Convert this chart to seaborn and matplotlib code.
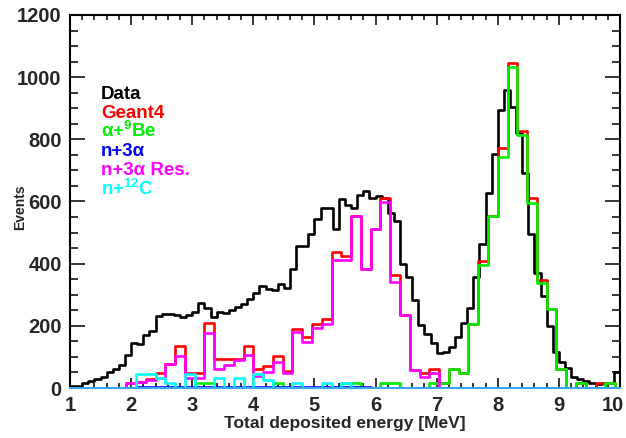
import numpy as np
import pandas as pd
import matplotlib
matplotlib.use('Agg')
import matplotlib.pyplot as plt
import seaborn as sns
from matplotlib.ticker import MultipleLocator, FuncFormatter

# measured spectrum, 0.1 MeV bins from 1.0 MeV
data_start = 1.0
data_width = 0.1
data_counts = [5, 8, 15, 22, 29, 36, 50, 60, 74, 106,
               144, 140, 170, 184, 232, 237, 238, 235, 229, 235,
               245, 272, 258, 229, 245, 242, 251, 261, 269, 287,
               305, 328, 317, 315, 334, 322, 383, 458, 458, 497,
               545, 578, 578, 510, 607, 588, 578, 620, 633, 610,
               618, 610, 562, 538, 400, 358, 283, 203, 173, 145,
               114, 116, 131, 165, 208, 256, 358, 463, 628, 754,
               894, 958, 904, 819, 692, 497, 369, 296, 199, 117,
               85, 63, 36, 28, 24, 17, 13, 17, 15, 53]

# Geant4 simulation, 0.16 MeV bins from 1.76 MeV
sim_start = 1.76
sim_width = 0.16
geant4 = [0, 15, 20, 30, 47, 77, 135, 47, 47, 208, 92,
          92, 92, 135, 60, 70, 104, 55, 190, 163, 207,
          221, 438, 424, 553, 382, 510, 610, 363, 235, 58,
          49, 62, 17, 62, 47, 205, 408, 553, 771, 1044,
          826, 610, 349, 253, 60, 0, 17, 0, 17, 17, 0]
alpha_be9 = [0, 0, 0, 0, 0, 0, 0, 0, 15, 15, 0,
             0, 0, 0, 0, 0, 17, 0, 0, 0, 0,
             0, 0, 17, 17, 0, 0, 17, 17, 0, 0,
             0, 17, 17, 62, 47, 205, 395, 553, 744, 1033,
             813, 596, 337, 253, 60, 0, 17, 0, 0, 17, 0]
n_3alpha = [0, 0, 4, 4, 4, 4, 4, 4, 4, 4, 4,
            4, 4, 4, 4, 4, 4, 4, 4, 4, 4,
            4, 4, 4, 4, 4, 0, 0, 0, 0, 0,
            0, 0, 0, 0, 0, 0, 0, 0, 0, 0,
            0, 0, 0, 0, 0, 0, 0, 0, 0, 0, 0]
n_3alpha_res = [0, 15, 20, 25, 31, 77, 104, 33, 33, 177, 60,
                75, 90, 105, 40, 52, 84, 48, 179, 148, 192,
                206, 411, 411, 553, 382, 510, 599, 342, 235, 58,
                36, 49, 0, 0, 0, 0, 0, 0, 0, 0,
                0, 0, 0, 0, 0, 0, 0, 0, 0, 0, 0]
n_c12 = [0, 0, 45, 45, 31, 17, 0, 45, 0, 0, 31,
         0, 31, 0, 45, 26, 0, 0, 17, 0, 0,
         15, 0, 17, 0, 0, 0, 0, 0, 0, 0,
         0, 0, 0, 0, 0, 0, 0, 0, 0, 0,
         0, 0, 0, 0, 0, 0, 0, 0, 0, 0, 0]

labels = ['Data', 'Geant4', 'α+$^{9}$Be', 'n+3α', 'n+3α Res.', 'n+$^{12}$C']
colors = ['black', '#ff0000', '#00ee00', '#0000ff', '#ff00ff', '#00ffff']

sns.set_style('ticks')
plt.rcParams['font.family'] = ['Liberation Sans', 'DejaVu Sans']
plt.rcParams['font.weight'] = 'bold'
plt.rcParams['mathtext.fontset'] = 'custom'
plt.rcParams['mathtext.rm'] = 'Liberation Sans:bold'
plt.rcParams['mathtext.default'] = 'rm'


def hist_frame(start, width, counts):
    edges = [start + width * i for i in range(len(counts) + 1)]
    df = pd.DataFrame({'energy': [(edges[i] + edges[i + 1]) / 2 for i in range(len(counts))],
                       'counts': counts})
    return df, edges


fig = plt.figure(figsize=(6.26, 4.38), dpi=100)
ax = fig.add_axes([70 / 626, 1 - 388 / 438, 550 / 626, 373 / 438])

# data histogram
df, edges = hist_frame(data_start, data_width, data_counts)
sns.histplot(data=df, x='energy', weights='counts', bins=edges,
             element='step', fill=False, color=colors[0], linewidth=1.9, ax=ax)

# simulated components
for vals, col in zip([geant4, alpha_be9, n_3alpha, n_3alpha_res, n_c12], colors[1:]):
    df, edges = hist_frame(sim_start, sim_width, vals)
    sns.histplot(data=df, x='energy', weights='counts', bins=edges, element='step',
                 fill=False, color=col, linewidth=1.9, ax=ax)

xmax = 10
ax.set_xlim(1, xmax)
ax.set_ylim(0, 1200)
ax.xaxis.set_major_locator(MultipleLocator(1))
ax.xaxis.set_minor_locator(MultipleLocator(0.2))
ax.yaxis.set_major_locator(MultipleLocator(200))
ax.yaxis.set_minor_locator(MultipleLocator(50))
# last label is drawn by hand so it stays inside the figure
ax.xaxis.set_major_formatter(FuncFormatter(lambda v, p: '' if v >= xmax else '%d' % v))
ax.tick_params(which='both', direction='in', top=True, right=True, width=1.1,
               color='black', labelsize=14.5)
ax.tick_params(axis='x', which='major', length=7.5, pad=6)
ax.tick_params(axis='x', which='minor', length=3.8)
ax.tick_params(axis='y', which='major', length=11, pad=6)
ax.tick_params(axis='y', which='minor', length=5.5)
for lab in ax.get_xticklabels() + ax.get_yticklabels():
    lab.set_fontweight('bold')
ax.annotate('%d' % xmax, xy=(xmax, 0), xycoords=('data', 'axes fraction'),
            xytext=(-5, -6), textcoords='offset points', ha='center', va='top',
            fontsize=14.5, fontweight='bold')

for s in ax.spines.values():
    s.set_linewidth(1.5)
    s.set_color('black')
ax.spines['bottom'].set_color('#3aa6f2')

ax.set_xlabel('Total deposited energy [MeV]', fontsize=12.5, fontweight='bold')
ax.set_ylabel('Events', fontsize=10, fontweight='bold')
ax.xaxis.set_label_coords(0.5, -0.0965)
ax.xaxis.label.set_va('center')
ax.yaxis.set_label_coords(-0.091, 0.485)
ax.yaxis.label.set_va('center')

# text legend
ys = [0.775, 0.724, 0.673, 0.623, 0.572, 0.518]
for lab, col, yy in zip(labels, colors, ys):
    ax.text(0.056, yy, lab, color=col, fontsize=13.5, fontweight='bold',
            transform=ax.transAxes, va='baseline', ha='left')

fig.savefig('out.png', dpi=100)
